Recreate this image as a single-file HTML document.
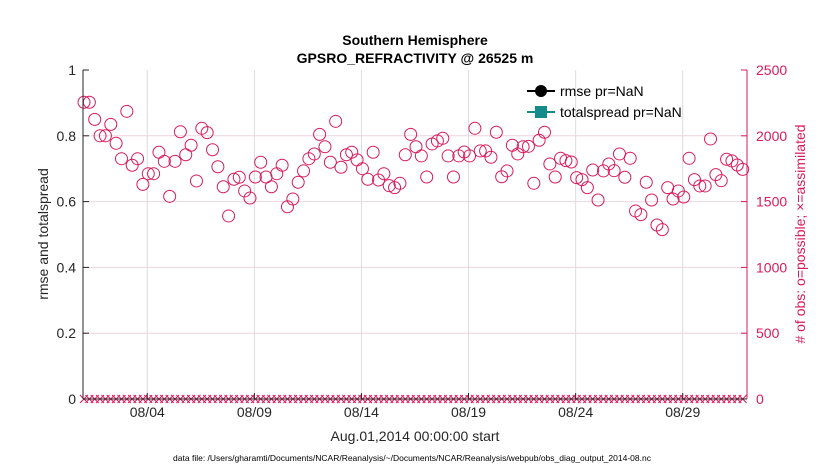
<!DOCTYPE html>
<html><head><meta charset="utf-8"><style>
body{margin:0;background:#fff;}
svg text{font-family:"Liberation Sans",sans-serif;}
</style></head><body>
<svg id="chart" width="830" height="470" xmlns="http://www.w3.org/2000/svg">
<rect width="830" height="470" fill="#fff"/>
<g id="grid"></g>
<g id="marks"></g>
<g id="axes"></g>
<text x="415" y="45" font-size="14" font-weight="bold" text-anchor="middle">Southern Hemisphere</text>
<text x="415" y="63" font-size="14" font-weight="bold" text-anchor="middle">GPSRO_REFRACTIVITY @ 26525 m</text>
<text x="415" y="441" font-size="14" text-anchor="middle" fill="#262626">Aug.01,2014 00:00:00 start</text>
<text x="412" y="461" font-size="8.5" text-anchor="middle">data file: /Users/gharamti/Documents/NCAR/Reanalysis/~/Documents/NCAR/Reanalysis/webpub/obs_diag_output_2014-08.nc</text>
<text transform="translate(48,234) rotate(-90)" font-size="14" text-anchor="middle" fill="#262626">rmse and totalspread</text>
<text transform="translate(805,234) rotate(-90)" font-size="14" text-anchor="middle" fill="#d81b5a">#  of obs: o=possible; ×=assimilated</text>
<g>
<line x1="527" y1="91" x2="555" y2="91" stroke="#000" stroke-width="2"/>
<circle cx="541" cy="91" r="6" fill="#000"/>
<text x="560" y="96" font-size="14">rmse pr=NaN</text>
<line x1="527" y1="112" x2="555" y2="112" stroke="#178a8a" stroke-width="2"/>
<rect x="535" y="106" width="12" height="12" fill="#178a8a"/>
<text x="560" y="117" font-size="14">totalspread pr=NaN</text>
</g>
</svg>
<script>
const possible = [2255,2255,2125,2000,2000,2087,1943,1826,2186,1776,1826,1631,1712,1712,1875,1806,1540,1806,2031,1856,1928,1657,2057,2024,1894,1765,1613,1391,1670,1685,1581,1527,1687,1799,1687,1613,1712,1776,1461,1520,1647,1733,1826,1862,2011,1917,1799,2110,1761,1856,1875,1817,1750,1670,1875,1664,1712,1621,1606,1639,1856,2011,1917,
1847,1687,1938,1961,1981,1847,1687,1847,1877,1847,2057,1885,1885,1837,2027,1689,1733,1928,1862,1917,1920,1639,1966,2027,1786,1687,1829,1811,1801,1682,1667,1606,1740,1512,1733,1786,1735,1862,1685,1829,1429,1401,1647,1512,1322,1287,1606,1520,1581,1535,1829,1667,1619,1619,1976,1705,1659,1822,1809,1778,1745];
const assimilated = possible.map(()=>0);
const xTickLabels = ["08/04","08/09","08/14","08/19","08/24","08/29"];
const xTickDays = [3,8,13,18,23,28];
const leftTicks = [0,0.2,0.4,0.6,0.8,1];
const rightTicks = [0,500,1000,1500,2000,2500];

const L=83,R=747,T=70,B=399,ND=31;
const xs=d=>L+(d/ND)*(R-L);
const yl=v=>B-v*(B-T);
const yr=v=>B-(v/2500)*(B-T);
const NS="http://www.w3.org/2000/svg";
function mk(p,tag,a){const e=document.createElementNS(NS,tag);for(const k in a)e.setAttribute(k,a[k]);p.appendChild(e);return e;}
const grid=document.getElementById('grid'),marks=document.getElementById('marks'),axes=document.getElementById('axes');
xTickDays.forEach((d,i)=>{
  const l=mk(grid,'line',{x1:xs(d),x2:xs(d),y1:T,y2:B,stroke:'#dcdcdc','stroke-width':1});
  
  
  mk(axes,'line',{x1:xs(d),x2:xs(d),y1:B,y2:B-6,stroke:'#262626'});
  const t=mk(axes,'text',{x:xs(d),y:B+18,'font-size':14,'text-anchor':'middle',fill:'#262626'});
  t.textContent=xTickLabels[i];
  
  
});
rightTicks.forEach(v=>{
  if(v>0&&v<2500){const g=mk(grid,'line',{x1:L,x2:R,y1:yr(v),y2:yr(v),stroke:'#f0d4dd','stroke-width':1});
  
  }
  mk(axes,'line',{x1:R,x2:R-6,y1:yr(v),y2:yr(v),stroke:'#d81b5a'});
  const t=mk(axes,'text',{x:R+9,y:yr(v)+5,'font-size':14,fill:'#d81b5a'});
  t.textContent=v;
  
  
});
leftTicks.forEach(v=>{
  mk(axes,'line',{x1:L,x2:L+6,y1:yl(v),y2:yl(v),stroke:'#262626'});
  const t=mk(axes,'text',{x:L-7,y:yl(v)+5,'font-size':14,'text-anchor':'end',fill:'#262626'});
  t.textContent=v;
  
  
});
mk(axes,'line',{x1:L,x2:L,y1:T,y2:B,stroke:'#262626'});
mk(axes,'line',{x1:L,x2:R,y1:B,y2:B,stroke:'#262626'});
mk(axes,'line',{x1:R,x2:R,y1:T,y2:B,stroke:'#d81b5a'});
const n=possible.length;
possible.forEach((v,i)=>{
  const x=xs(i*ND/n);
  const c=mk(marks,'circle',{cx:x+1,cy:yr(v),r:6,fill:'none',stroke:'#d81b5a','stroke-width':1});
  
  
});
assimilated.forEach((v,i)=>{
  const x=xs(i*ND/n)+1,y=yr(v);
  const p=mk(marks,'path',{d:`M${x-4} ${y-4}L${x+4} ${y+4}M${x-4} ${y+4}L${x+4} ${y-4}`,stroke:'#d81b5a','stroke-width':1});
  
  
});
</script>
</body></html>
